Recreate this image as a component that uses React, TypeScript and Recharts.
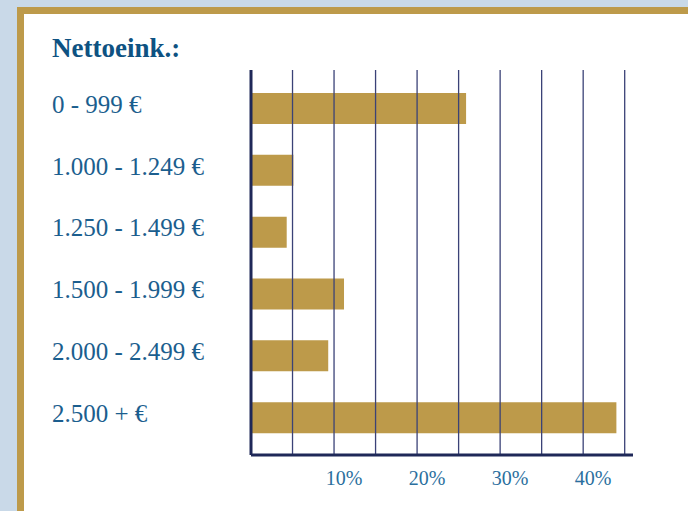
import React from 'react';
import { BarChart, Bar, XAxis, YAxis, ReferenceLine } from 'recharts';

const categories = ['0 - 999 €', '1.000 - 1.249 €', '1.250 - 1.499 €', '1.500 - 1.999 €', '2.000 - 2.499 €', '2.500 + €'];
const shares = [25.9, 5.1, 4.3, 11.2, 9.3, 44.0];
const gridTicks = [0, 5, 10, 15, 20, 25, 30, 35, 40, 45];
const labelTicks = [10, 20, 30, 40];

const data = categories.map((name, i) => ({ name, value: shares[i] }));

const FONT = '"Liberation Serif", "DejaVu Serif", serif';
const NAVY = '#1f2858';
const GOLD = '#bd9a4a';

const YTick = (props: any) => {
  const { y, payload } = props;
  return (
    <text x={52} y={y - 5} dy="0.35em" textAnchor="start" fontFamily={FONT} fontSize={25} fill="#1b5e8e">
      {payload.value}
    </text>
  );
};

const XTick = (props: any) => {
  const { x, y, payload } = props;
  if (!labelTicks.includes(payload.value)) return null;
  return (
    <text x={x + 10} y={y + 22} textAnchor="middle" fontFamily={FONT} fontSize={20} fill="#2b6f9e">
      {payload.value}%
    </text>
  );
};

export default function App() {
  return (
    <div style={{ position: 'fixed', left: 0, top: 0, width: 688, height: 511, background: '#c9d9e8', overflow: 'hidden' }}>
      <div
        style={{
          position: 'absolute',
          left: 17,
          top: 7,
          width: 720,
          height: 540,
          border: `7px solid ${GOLD}`,
          background: '#ffffff',
        }}
      />
      <div
        style={{
          position: 'absolute',
          left: 52,
          top: 35,
          fontFamily: FONT,
          fontWeight: 'bold',
          fontSize: 27,
          lineHeight: '27px',
          color: '#0e5282',
        }}
      >
        Nettoeink.:
      </div>
      <div style={{ position: 'absolute', left: 0, top: 0 }}>
        <BarChart
          width={688}
          height={511}
          data={data}
          layout="vertical"
          margin={{ top: 70, right: 55, bottom: 26, left: 0 }}
        >
          <XAxis
            type="number"
            domain={[0, 46]}
            ticks={gridTicks}
            interval={0}
            height={30}
            tickLine={false}
            axisLine={{ stroke: NAVY, strokeWidth: 3 }}
            tick={<XTick />}
          />
          <YAxis
            type="category"
            dataKey="name"
            width={251}
            padding={{ top: 8, bottom: 6 }}
            tickLine={false}
            axisLine={{ stroke: NAVY, strokeWidth: 3 }}
            tick={<YTick />}
            interval={0}
          />
          <Bar dataKey="value" fill={GOLD} barSize={31} isAnimationActive={false} />
          {gridTicks.slice(1).map((t) => (
            <ReferenceLine key={t} x={t} stroke="#3b4277" strokeWidth={1.3} />
          ))}
        </BarChart>
      </div>
    </div>
  );
}
